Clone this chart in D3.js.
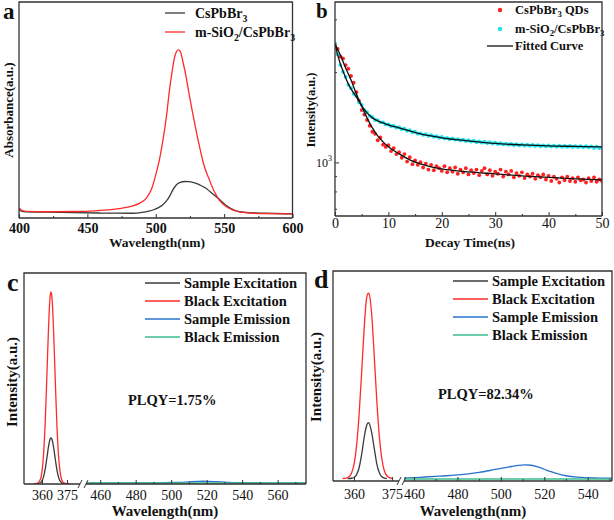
<!DOCTYPE html>
<html><head><meta charset="utf-8">
<script src="https://cdn.jsdelivr.net/npm/d3@7"></script>
<style>body{margin:0;background:#fff}</style>
</head><body>
<svg id="chart" width="614" height="520"></svg>
<script>
// ---------- Panel a: absorbance ----------
const aTicks = [400, 450, 500, 550, 600];
const aMinorTicks = [425, 475, 525, 575];
const aRedX = [400,402,405,420,440,455,465,475,483,488,493,497,500,503,505,508,510,512,514,516.5,518,520,522,524.5,527,530,532,535,539,543,546.5,550,556,563,571,585,600];
const aRedY = [0.046,0.036,0.031,0.029,0.030,0.033,0.038,0.045,0.056,0.068,0.091,0.135,0.20,0.28,0.35,0.48,0.59,0.68,0.75,0.778,0.77,0.72,0.66,0.57,0.485,0.39,0.33,0.25,0.18,0.12,0.083,0.06,0.037,0.027,0.022,0.020,0.019];
const aBlackX = [400,403,420,440,460,483,490,495,498,502,505,508,510,512.5,515,518,521,524,527,530,534,537,540,544,548,551,555,561,570,580,600];
const aBlackY = [0.037,0.030,0.027,0.025,0.023,0.022,0.026,0.032,0.037,0.048,0.060,0.080,0.099,0.13,0.153,0.165,0.169,0.168,0.165,0.159,0.147,0.137,0.12,0.099,0.078,0.06,0.044,0.029,0.024,0.022,0.019];
const aLegend = ["CsPbBr|3", "m-SiO|2|/CsPbBr|3"];

// ---------- Panel b: decay ----------
const bTicks = [0, 10, 20, 30, 40, 50];
const bMinorTicks = [5, 15, 25, 35, 45];
const bRedDots = [2480,2400,2260,2230,2120,2060,1950,1850,1720,1610,1500,1450,1390,1330,1270,1250,1190,1215,1150,1130,1145,1095,1120,1070,1085,1040,1070,1010,1045,990,1020,985,1005,965,995,950,985,945,975,960,940,975,930,960,935,965,920,950,930,960,915,945,925,950,910,940,960,915,945,905,935,920,950,900,935,915,940,895,925,905,930,890,915,900,920,885,910,895,915,880,905,870,900,885,860,895,875,900,870,890,865,895,875,880,860,890,870,895,865,880,870];
const bCyanDots = [2510,2300,2120,2010,1935,1820,1775,1700,1670,1590,1560,1500,1475,1435,1420,1390,1388,1365,1365,1345,1345,1325,1330,1310,1315,1295,1300,1280,1285,1265,1270,1250,1255,1240,1247,1230,1237,1222,1228,1212,1220,1205,1212,1200,1207,1195,1200,1188,1195,1182,1190,1178,1186,1172,1180,1168,1176,1164,1172,1160,1168,1156,1164,1152,1160,1150,1157,1146,1155,1143,1152,1142,1150,1140,1148,1138,1146,1136,1144,1135,1143,1133,1142,1132,1141,1131,1140,1130,1139,1129,1138,1128,1137,1127,1136,1126,1135,1122,1133,1120,1128];
const bFitT = [0,0.5,1,1.5,2,2.5,3,4,5,6,7,8,9,10,12,14,16,18,20,25,30,35,40,45,50];
const bRedFit = [2494,2390,2291,2180,2073,1980,1891,1698,1549,1413,1308,1230,1175,1131,1072,1023,992,970,955,933,919,905,895,885,878];
const bCyanFit = [2494,2291,2138,2026,1920,1834,1765,1660,1549,1468,1413,1380,1359,1339,1308,1278,1249,1230,1212,1184,1161,1148,1139,1135,1131];
const bLegend = ["CsPbBr|3| QDs", "m-SiO|2|/CsPbBr|3", "Fitted Curve"];

// ---------- Panels c & d: PLQY ----------
const legendCD = ["Sample Excitation", "Black Excitation", "Sample Emission", "Black Emission"];
const cTicksLeft = [360, 375];
const cTicksRight = [460, 480, 500, 520, 540, 560];
const cMinorRight = [470, 490, 510, 530, 550, 570];
const cRedX = [355,357,359,360,361,362,363,364,365,365.4,366,367,368,369,370,371,372,373,374,376,377];
const cRedY = [0.002,0.003,0.021,0.06,0.148,0.307,0.53,0.758,0.898,0.91,0.882,0.716,0.482,0.269,0.125,0.049,0.017,0.006,0.003,0.002,0.002];
const cBlackX = [357,359,360,361,362,363,364,365,365.4,366,367,368,369,370,371,372,373,375];
const cBlackY = [0.002,0.006,0.015,0.036,0.074,0.127,0.182,0.215,0.218,0.212,0.172,0.116,0.065,0.03,0.012,0.005,0.002,0.002];
const cSampleEmX = [452,470,490,500,505,510,515,518,521,525,530,540,550,560,576];
const cSampleEmY = [0.004,0.004,0.005,0.007,0.008,0.010,0.012,0.013,0.012,0.011,0.009,0.006,0.005,0.004,0.004];
const cBlackEmX = [452,500,540,576];
const cBlackEmY = [0.005,0.005,0.005,0.005];
const cPLQY = "PLQY=1.75%";

const dTicksLeft = [360, 375];
const dTicksRight = [460, 480, 500, 520, 540];
const dMinorRight = [470, 490, 510, 530, 550];
const dRedX = [355.5,357,358,359,360,361,362,363,364,365,365.7,366,367,368,369,370,371,372,373,374,375];
const dRedY = [0.012,0.014,0.02,0.037,0.078,0.165,0.312,0.511,0.722,0.872,0.895,0.89,0.794,0.598,0.387,0.216,0.107,0.049,0.025,0.016,0.013];
const dBlackX = [357.5,359,360,361,362,363,364,365,365.7,366,367,368,369,370,371,372,373];
const dBlackY = [0.012,0.013,0.017,0.03,0.062,0.124,0.206,0.264,0.278,0.275,0.230,0.156,0.083,0.04,0.02,0.014,0.012];
const dSampleEmX = [455.4,460,465,470,475,480,485,490,495,500,505,508,511,514,517,520,523,526,530,535,540,545,551.2];
const dSampleEmY = [0.014,0.016,0.019,0.022,0.025,0.029,0.034,0.041,0.05,0.06,0.069,0.074,0.077,0.075,0.067,0.056,0.045,0.035,0.025,0.018,0.015,0.014,0.013];
const dBlackEmX = [455.4,500,551.2];
const dBlackEmY = [0.0095,0.0095,0.0095];
const dPLQY = "PLQY=82.34%";

// ---------- drawing ----------
const FONT = "'Liberation Serif','Times New Roman',serif";
const COL = {black:"#3a3a3a", red:"#ff2a2a", blue:"#2a72cc", green:"#3cbc8c", cyan:"#19e6f0", dot:"#ff2020", frame:"#333"};
const svg = d3.select("#chart").style("font-family", FONT);

function richText(sel, s, size) {
  const parts = s.split("|");
  parts.forEach((p, i) => {
    const t = sel.append("tspan").text(p);
    if (i % 2 === 1) t.attr("font-size", size * 0.7).attr("dy", size * 0.25);
    else if (i > 0) t.attr("dy", -size * 0.25);
  });
}
function frame(x0, y0, x1, y1, gap) {
  const g = svg.append("g").attr("fill","none").attr("stroke",COL.frame).attr("stroke-width",1.3);
  g.append("path").attr("d", `M${x0},${y1}V${y0}H${x1}V${y1}`);
  if (gap) {
    g.append("path").attr("d", `M${x0},${y1}H${gap[0]}M${gap[1]},${y1}H${x1}`);
    g.append("path").attr("stroke-width",1).attr("d",
      `M${gap[0]-2},${y1+4}L${gap[0]+2},${y1-4}M${gap[1]-2},${y1+4}L${gap[1]+2},${y1-4}`);
  } else g.append("path").attr("d", `M${x0},${y1}H${x1}`);
}
function xAxis(scale, y, ticks, minor, bold, size, pad) {
  const g = svg.append("g").attr("transform", `translate(0,${y})`)
    .call(d3.axisBottom(scale).tickValues(ticks).tickSizeInner(-4).tickSizeOuter(0).tickPadding(pad).tickFormat(d3.format("d")));
  g.select(".domain").remove();
  g.selectAll("text").attr("font-family", FONT).attr("font-size", size).attr("font-weight", bold ? "bold" : "normal").attr("fill","#111");
  g.selectAll("line").attr("stroke", COL.frame);
  if (minor) {
    const m = svg.append("g").attr("transform", `translate(0,${y})`)
      .call(d3.axisBottom(scale).tickValues(minor).tickSizeInner(-2).tickSizeOuter(0).tickFormat(""));
    m.select(".domain").remove();
    m.selectAll("line").attr("stroke", COL.frame);
  }
}
function curve(xs, ys, sx, sy, color, w, clip) {
  const pts = xs.map((x, i) => [x, ys[i]]);
  svg.append("path").datum(pts).attr("fill","none").attr("stroke",color).attr("stroke-width",w)
    .attr("clip-path", clip ? `url(#${clip})` : null)
    .attr("d", d3.line().x(d => sx(d[0])).y(d => sy(d[1])).curve(d3.curveMonotoneX));
}
function clipRect(id, x0, y0, x1, y1) {
  svg.append("clipPath").attr("id", id).append("rect").attr("x", x0).attr("y", y0).attr("width", x1 - x0).attr("height", y1 - y0);
}
function label(x, y, txt, size, opts = {}) {
  const t = svg.append("text").attr("x", x).attr("y", y).attr("font-size", size)
    .attr("font-weight", opts.normal ? "normal" : "bold").attr("fill", "#111")
    .attr("text-anchor", opts.anchor || "start");
  if (opts.rotate) t.attr("transform", `rotate(-90,${x},${y})`);
  if (opts.rich) richText(t, txt, size); else t.text(txt);
  return t;
}

// Panel a
{
  const L = 19, R = 292.5, T = 2, B = 218;
  const x = d3.scaleLinear().domain([400, 600]).range([L, R]);
  const y = d3.scaleLinear().domain([0, 1]).range([B, T]);
  clipRect("clipA", L, T, R, B);
  curve(aBlackX, aBlackY, x, y, COL.black, 1.3, "clipA");
  curve(aRedX, aRedY, x, y, COL.red, 1.3, "clipA");
  frame(L, T, R, B);
  xAxis(x, B, aTicks, aMinorTicks, true, 14, 5);
  label(157, 247, "Wavelength(nm)", 13.5, {anchor: "middle"});
  label(13, 110, "Absorbance(a.u.)", 13, {anchor: "middle", rotate: true});
  label(3, 19, "a", 23);
  const ly = [13, 32], lc = [COL.black, COL.red];
  aLegend.forEach((s, i) => {
    svg.append("line").attr("x1",165).attr("x2",185).attr("y1",ly[i]).attr("y2",ly[i]).attr("stroke",lc[i]).attr("stroke-width",1.3);
    label(195, ly[i] + 5, s, 14, {rich: true});
  });
}

// Panel b
{
  const L = 335, R = 602, T = 2, B = 216;
  const x = d3.scaleLinear().domain([0, 50]).range([L, R]);
  const y = d3.scaleLog().domain([665, 3440]).range([B, T]);
  clipRect("clipB", L, T, R, B);
  const tGrid = d3.range(0, 50.001, 0.5);
  const gd = svg.append("g").attr("clip-path","url(#clipB)");
  gd.selectAll("circle.r").data(bRedDots).join("circle").attr("class","r")
    .attr("cx", (d, i) => x(tGrid[i])).attr("cy", d => y(d)).attr("r", 1.9).attr("fill", COL.dot);
  gd.selectAll("circle.c").data(bCyanDots).join("circle").attr("class","c")
    .attr("cx", (d, i) => x(tGrid[i])).attr("cy", d => y(d)).attr("r", 1.9).attr("fill", COL.cyan);
  curve(bFitT, bRedFit, x, y, "#111", 1.3, "clipB");
  curve(bFitT, bCyanFit, x, y, "#111", 1.3, "clipB");
  frame(L, T, R, B);
  xAxis(x, B, bTicks, bMinorTicks, false, 14, 2);
  const yMinor = [700, 800, 900, 2000, 3000];
  svg.append("line").attr("x1", L).attr("x2", L + 4).attr("y1", y(1000)).attr("y2", y(1000)).attr("stroke", COL.frame);
  yMinor.forEach(v => svg.append("line").attr("x1", L).attr("x2", L + 2).attr("y1", y(v)).attr("y2", y(v)).attr("stroke", COL.frame));
  const tk = svg.append("text").attr("x", L - 3).attr("y", y(1000) + 4).attr("font-size", 12).attr("text-anchor","end").attr("fill","#111");
  tk.append("tspan").text("10");
  tk.append("tspan").text("3").attr("font-size", 8).attr("dy", -6);
  label(470, 247, "Decay Time(ns)", 13.5, {anchor: "middle"});
  label(315, 110, "Intensity(a.u.)", 12.5, {anchor: "middle", rotate: true});
  label(316, 18, "b", 21);
  svg.append("circle").attr("cx", 500).attr("cy", 10).attr("r", 2.2).attr("fill", COL.dot);
  svg.append("circle").attr("cx", 500).attr("cy", 29).attr("r", 2.2).attr("fill", COL.cyan);
  svg.append("line").attr("x1", 487).attr("x2", 513).attr("y1", 46).attr("y2", 46).attr("stroke", "#111").attr("stroke-width", 1.3);
  [14, 33, 50].forEach((yy, i) => label(515, yy, bLegend[i], 12.5, {rich: true}));
}

// Panels c, d
function plqyPanel(cfg) {
  const {L, R, T, B, gap, domL, domR} = cfg;
  const xl = d3.scaleLinear().domain(domL).range([L, gap[0]]);
  const xr = d3.scaleLinear().domain(domR).range([gap[1], R]);
  const y = d3.scaleLinear().domain([0, 1]).range([B, T]);
  clipRect(cfg.id + "L", L, T, gap[0], B);
  clipRect(cfg.id + "R", gap[1], T, R, B);
  curve(cfg.blackX, cfg.blackY, xl, y, COL.black, 1.3, cfg.id + "L");
  curve(cfg.redX, cfg.redY, xl, y, COL.red, 1.3, cfg.id + "L");
  curve(cfg.semX, cfg.semY, xr, y, COL.blue, 1.3, cfg.id + "R");
  curve(cfg.bemX, cfg.bemY, xr, y, COL.green, 1.6, cfg.id + "R");
  frame(L, T, R, B, gap);
  xAxis(xl, B, cfg.ticksL, null, false, 14, cfg.pad);
  xAxis(xr, B, cfg.ticksR, cfg.minorR, false, 14, cfg.pad);
  label(cfg.xlab[0], cfg.xlab[1], "Wavelength(nm)", 15, {anchor: "middle"});
  label(cfg.ylab[0], cfg.ylab[1], "Intensity(a.u.)", 15, {anchor: "middle", rotate: true});
  label(cfg.tag[0], cfg.tag[1], cfg.tagText, 26);
  label(cfg.plqy[0], cfg.plqy[1], cfg.plqyText, 14.5);
  const cols = [COL.black, COL.red, COL.blue, COL.green];
  legendCD.forEach((s, i) => {
    const yy = cfg.leg[2] + i * cfg.leg[3];
    svg.append("line").attr("x1", cfg.leg[0]).attr("x2", cfg.leg[0] + 35).attr("y1", yy).attr("y2", yy).attr("stroke", cols[i]).attr("stroke-width", 1.4);
    label(cfg.leg[1], yy + 5, s, 14.5);
  });
}
plqyPanel({id: "clipC", L: 24, R: 306, T: 273, B: 484, gap: [80, 86], domL: [349.2, 382.8], domR: [452, 576], pad: 6,
  redX: cRedX, redY: cRedY, blackX: cBlackX, blackY: cBlackY, semX: cSampleEmX, semY: cSampleEmY, bemX: cBlackEmX, bemY: cBlackEmY,
  ticksL: cTicksLeft, ticksR: cTicksRight, minorR: cMinorRight,
  xlab: [165, 515.5], ylab: [17, 382], tag: [7, 291], tagText: "c", plqy: [128, 405], plqyText: cPLQY, leg: [145, 184, 283, 18]});
plqyPanel({id: "clipD", L: 333, R: 612, T: 271, B: 481, gap: [399, 404], domL: [351.7, 377.8], domR: [455.4, 551.2], pad: 8,
  redX: dRedX, redY: dRedY, blackX: dBlackX, blackY: dBlackY, semX: dSampleEmX, semY: dSampleEmY, bemX: dBlackEmX, bemY: dBlackEmY,
  ticksL: dTicksLeft, ticksR: dTicksRight, minorR: dMinorRight,
  xlab: [473, 515.5], ylab: [321, 377], tag: [314, 288], tagText: "d", plqy: [438, 399], plqyText: dPLQY, leg: [453, 492, 281, 18]});
</script>
</body></html>
